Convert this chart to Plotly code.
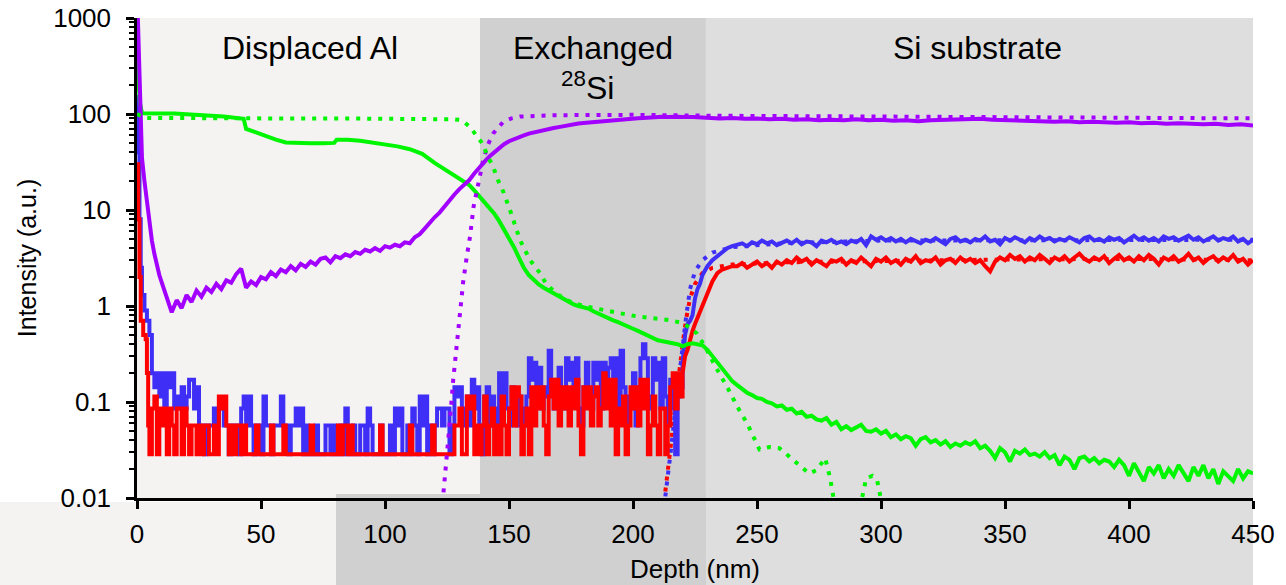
import plotly.graph_objects as go

# ---------------- data ----------------
UNIT = 0.0285  # one detector count level (a.u.)

# blue trace
blue_head_x = [0, 0.5, 1, 1.5, 2, 3, 4, 5]
blue_head_y = [150, 40, 8, 2.5, 1.3, 0.9, 0.7, 0.5]
blue_low_x = list(range(6, 221))
blue_low_counts = [
    7, 5, 7, 4, 7, 3, 7, 5, 7, 3,
    4, 3, 5, 3, 4, 6, 6, 3, 5, 2,
    2, 1, 2, 2, 2, 3, 2, 3, 3, 2,
    2, 1, 2, 2, 2, 1, 3, 4, 2, 4,
    2, 1, 2, 2, 1, 4, 2, 2, 1, 2,
    2, 2, 4, 2, 2, 1, 2, 2, 3, 2,
    3, 1, 2, 1, 1, 1, 2, 1, 1, 1,
    2, 2, 1, 2, 1, 1, 2, 1, 3, 1,
    1, 2, 1, 1, 2, 2, 1, 3, 2, 1,
    1, 1, 2, 1, 1, 1, 2, 1, 3, 2,
    3, 1, 1, 2, 1, 3, 2, 1, 4, 2,
    4, 1, 2, 1, 2, 3, 3, 2, 3, 3,
    1, 2, 5, 4, 5, 3, 2, 4, 2, 6,
    3, 5, 2, 1, 4, 5, 2, 4, 3, 2,
    7, 4, 7, 3, 2, 5, 3, 2, 4, 3,
    2, 4, 10, 6, 9, 4, 8, 3, 5, 4,
    12, 5, 3, 6, 8, 4, 3, 10, 6, 9,
    4, 10, 3, 2, 5, 9, 4, 3, 9, 6,
    9, 3, 9, 5, 8, 10, 4, 10, 3, 12,
    5, 2, 4, 3, 7, 2, 5, 10, 14, 10,
    4, 3, 10, 6, 9, 3, 10, 4, 2, 6,
    3, 1, 4, 5, 9,
]
blue_rise_x = [221, 222, 223, 224, 225, 226, 227, 228, 229, 230, 232, 234, 236, 238, 240]
blue_rise_y = [0.5, 0.65, 0.7, 0.8, 1.2, 1.5, 1.7, 2.1, 2.4, 2.6, 3.0, 3.3, 3.7, 4.0, 4.2]
blue_plateau_x = list(range(242, 451, 2))
blue_plateau_y = [
    4.3, 4.5, 4.2, 4.6, 4.4, 4.8, 4.5, 4.7, 4.3, 4.6,
    4.8, 4.5, 4.9, 4.4, 4.7, 4.6, 4.2, 4.8, 4.6, 4.9,
    4.5, 4.7, 4.4, 4.8, 4.6, 5.0, 4.3, 5.3, 4.9, 5.2,
    4.8, 5.1, 4.7, 5.0, 4.6, 5.0, 4.8, 4.5, 4.9, 4.7,
    5.1, 4.8, 4.4, 5.0, 5.2, 4.7, 4.9, 4.6, 5.0, 4.8,
    5.3, 4.7, 4.9, 4.4, 5.1, 4.8, 5.2, 4.9, 4.6, 5.1,
    4.8, 5.3, 4.9, 5.1, 4.7, 5.0, 4.8, 5.2, 4.9, 4.6,
    5.1, 5.3, 4.8, 5.0, 4.7, 5.2, 4.9, 5.1, 4.6, 5.0,
    5.4, 4.9, 5.2, 4.8, 5.1, 4.7, 5.3, 5.0, 5.2, 4.8,
    5.1, 5.4, 4.9, 5.2, 4.7, 5.0, 5.3, 4.8, 5.1, 4.9,
    5.3, 4.7, 5.0, 4.5, 4.9,
]

# red trace
red_head_x = [0, 0.5, 1, 1.5, 2.5, 3.5, 4, 4.5]
red_head_y = [30, 8, 2, 0.7, 0.5, 0.45, 0.2, 0.057]
red_low_x = list(range(5, 221))
red_low_counts = [
    1, 3, 4, 1, 3, 2, 3, 1, 3, 2,
    1, 3, 3, 1, 3, 2, 1, 2, 2, 1,
    2, 1, 2, 2, 1, 1, 2, 1, 4, 3,
    4, 2, 1, 2, 1, 2, 2, 1, 2, 1,
    1, 1, 1, 2, 1, 1, 1, 1, 1, 2,
    1, 1, 1, 1, 2, 1, 1, 1, 1, 1,
    1, 1, 1, 1, 1, 2, 1, 1, 1, 1,
    1, 1, 1, 1, 1, 1, 2, 1, 2, 2,
    1, 2, 1, 1, 1, 1, 1, 1, 1, 1,
    1, 1, 1, 2, 1, 1, 1, 1, 1, 1,
    1, 1, 1, 1, 1, 2, 1, 1, 1, 1,
    1, 1, 1, 1, 2, 1, 1, 1, 1, 1,
    1, 1, 1, 2, 2, 3, 1, 1, 4, 3,
    4, 1, 2, 1, 2, 4, 1, 2, 3, 1,
    2, 1, 4, 2, 1, 3, 5, 2, 5, 4,
    1, 2, 3, 1, 5, 2, 5, 3, 5, 2,
    1, 4, 6, 3, 6, 2, 5, 3, 5, 2,
    5, 3, 6, 2, 1, 5, 3, 5, 2, 4,
    5, 2, 3, 7, 3, 6, 2, 6, 1, 3,
    2, 4, 1, 2, 5, 3, 5, 2, 6, 3,
    6, 1, 2, 4, 2, 1, 3, 3, 1, 2,
    5, 7, 3, 7, 4, 7,
]
red_rise_x = [221, 222, 223, 224, 225, 226, 227, 228, 229, 230, 232, 234, 236, 238, 240]
red_rise_y = [0.3, 0.35, 0.45, 0.55, 0.65, 0.75, 0.9, 1.05, 1.2, 1.4, 1.8, 2.2, 2.4, 2.5, 2.6]
red_plateau_x = list(range(242, 451, 2))
red_plateau_y = [
    2.6, 2.8, 2.5, 2.7, 2.9, 2.6, 2.8, 2.5, 2.9, 2.7,
    3.0, 2.8, 3.2, 2.9, 3.1, 2.7, 3.0, 2.8, 2.6, 3.0,
    2.9, 3.1, 2.7, 3.0, 2.8, 3.2, 2.9, 2.6, 3.1, 2.9,
    3.2, 2.8, 3.0, 2.7, 3.1, 2.9, 3.3, 2.8, 3.0, 2.9,
    3.2, 2.7, 3.0, 3.1, 2.8, 3.2, 2.9, 3.1, 2.8, 3.0,
    2.6, 2.3, 2.9, 3.2, 3.0, 3.4, 3.1, 3.3, 2.9, 3.2,
    3.0, 3.4, 3.1, 2.8, 3.2, 3.0, 3.3, 2.9, 3.2, 3.5,
    3.1, 2.9, 3.2, 3.0, 3.3, 2.8, 3.1, 3.4, 3.0, 3.2,
    2.9, 3.3, 3.0, 3.4, 3.1, 2.7, 3.2, 3.0, 3.3, 2.9,
    3.1, 3.5, 3.0, 3.2, 2.8, 3.1, 3.3, 2.9, 3.2, 3.0,
    3.4, 2.9, 3.1, 2.7, 3.0,
]

# purple (measured, solid)
purple_head_x = [0, 0.5, 1, 1.5, 2, 3, 4, 5, 6, 7, 8, 9, 10, 11, 12, 13, 14]
purple_head_y = [2000, 700, 250, 80, 35, 20, 12, 7.5, 4.8, 3.5, 2.6, 2.1, 1.75, 1.45, 1.3, 1.05, 0.86]
purple_mid_x = list(range(16, 135, 2))
purple_mid_y = [
    1.15, 0.95, 1.3, 1.1, 1.45, 1.25, 1.55, 1.4, 1.7, 1.5,
    1.85, 1.75, 2.15, 2.45, 1.55, 1.8, 1.65, 2.0, 1.9, 2.25,
    2.05, 2.4, 2.25, 2.6, 2.35, 2.75, 2.55, 2.9, 2.7, 3.1,
    3.2, 2.85, 3.3, 3.15, 3.45, 3.3, 3.65, 3.5, 3.85, 3.7,
    4.0, 3.75, 4.2, 4.05, 4.35, 4.2, 4.6, 4.5, 5.2, 5.6,
    6.4, 7.4, 8.4, 9.4, 11, 12.5, 14.5, 16.5, 18.5, 20.5,
]
purple_up_x = list(range(136, 229, 2))
purple_up_y = [
    24, 28, 31.5, 36, 40, 45, 48.5, 52, 55, 58,
    60, 62.5, 64.5, 66, 68, 70, 71.5, 73, 75, 77,
    78, 79.5, 80.5, 81.5, 82, 83, 83.5, 85, 86, 87,
    88, 89, 90, 90.5, 91, 92, 92, 93, 93.5, 93,
    94, 93.5, 93, 94, 93, 92.5, 92,
]
purple_tail_x = list(range(230, 451, 5))
purple_tail_y = [
    92, 90, 91, 89, 90, 88, 89, 87, 88, 86,
    87, 86, 88, 86, 87, 85, 86, 84, 86, 87,
    88, 90, 89, 87, 86, 85, 84, 85, 83, 84,
    82, 83, 82, 81, 82, 80, 81, 79, 80, 79,
    78, 79, 77, 78, 76,
]

# green (measured, solid)
green_head_x = [0, 0.6, 1.2, 2, 5, 10, 15, 20, 25, 30, 35, 40, 43, 44, 48, 52, 56, 60, 65, 70,
                75, 79.5, 80.5, 85, 90, 95, 100, 105, 110, 115, 120, 125, 130]
green_head_y = [380, 250, 130, 102, 101, 101.5, 101, 100, 98, 96, 94, 91, 89, 70, 64, 58, 54, 50.5, 49.5, 49.5,
                49.5, 50, 54, 54, 52.5, 50.5, 48.5, 46, 43, 38.5, 31, 25.5, 21]
green_mid_x = list(range(134, 231, 2))
green_mid_y = [
    18.2, 16, 14, 12.3, 10.7, 9.2, 7.7, 6.3, 5.1, 4.1,
    3.2, 2.5, 2.1, 1.85, 1.68, 1.55, 1.45, 1.36, 1.27, 1.17,
    1.09, 1.04, 1.0, 0.97, 0.94, 0.88, 0.83, 0.79, 0.75, 0.71,
    0.68, 0.64, 0.61, 0.58, 0.55, 0.52, 0.49, 0.47, 0.44, 0.43,
    0.42, 0.41, 0.40, 0.38, 0.40, 0.41, 0.40, 0.39, 0.35,
]
green_tail_x = list(range(232, 451, 2))
green_tail_y = [
    0.30, 0.26, 0.22, 0.19, 0.165, 0.15, 0.135, 0.125, 0.118, 0.11,
    0.108, 0.1, 0.097, 0.09, 0.092, 0.083, 0.085, 0.076, 0.079, 0.07,
    0.072, 0.066, 0.064, 0.068, 0.058, 0.062, 0.052, 0.056, 0.051, 0.054,
    0.058, 0.05, 0.049, 0.052, 0.047, 0.05, 0.043, 0.046, 0.041, 0.044,
    0.042, 0.035, 0.041, 0.043, 0.038, 0.04, 0.036, 0.039, 0.034, 0.037,
    0.035, 0.038, 0.036, 0.039, 0.033, 0.035, 0.031, 0.026, 0.033, 0.03,
    0.024, 0.031, 0.029, 0.032, 0.028, 0.029, 0.027, 0.03, 0.026, 0.028,
    0.022, 0.027, 0.025, 0.02, 0.026, 0.027, 0.024, 0.026, 0.023, 0.025,
    0.024, 0.021, 0.025, 0.022, 0.017, 0.023, 0.019, 0.015, 0.021, 0.018,
    0.022, 0.016, 0.02, 0.017, 0.022, 0.018, 0.015, 0.021, 0.017, 0.022,
    0.016, 0.02, 0.014, 0.019, 0.017, 0.015, 0.02, 0.016, 0.019, 0.018,
]

# simulated profiles (dotted)
purple_dot_x = [122, 123.5, 125, 126.2, 127.5, 128.9, 130.2, 131.6, 133, 134.3, 135.7, 137, 139.6,
                141.5, 143.7, 147.7, 151, 154.4, 160, 168, 180, 200, 230, 260, 300, 350, 400, 450]
purple_dot_y = [0.004, 0.01, 0.025, 0.065, 0.17, 0.41, 0.98, 1.86, 3.3, 5.3, 10.8, 16, 33,
                48, 63, 83, 90, 94, 96, 97, 97.5, 98, 96, 95, 94, 93, 92, 90]
green_dot_x = [0, 3, 5, 20, 50, 80, 110, 120, 125, 128, 130, 132, 134.3, 137, 139.6, 141, 143.7, 145,
               147.7, 150.4, 152.5, 154.4, 156.5, 158.5, 162.5, 165.2, 170, 175, 180, 185, 188, 192,
               197, 201.5, 208, 215, 220.4, 225.7, 229, 233, 238, 242, 246, 251, 255, 259, 263, 266,
               271, 274, 277.5, 279.5, 281, 286, 292, 294, 296.5, 298.5, 300, 303]
green_dot_y = [100, 92, 91, 90, 90, 90, 90, 90, 89, 88, 87, 82, 73, 60, 48, 38, 28, 22,
               15.5, 10, 7, 4.9, 3.8, 3.0, 2.2, 1.66, 1.3, 1.1, 1.0, 0.95, 0.91, 0.87,
               0.82, 0.78, 0.74, 0.71, 0.66, 0.52, 0.38, 0.24, 0.143, 0.09, 0.06, 0.032, 0.034, 0.033, 0.027, 0.023,
               0.018, 0.0195, 0.026, 0.016, 0.0095, 0.004, 0.009, 0.016, 0.017, 0.015, 0.01, 0.004]
blue_dot_x = [212.5, 214, 215.5, 217, 218.5, 220, 221.5, 223, 225, 228, 232, 240, 260, 300, 350, 400, 450]
blue_dot_y = [0.008, 0.016, 0.035, 0.08, 0.18, 0.38, 0.8, 1.5, 2.3, 3.0, 3.6, 4.1, 4.5, 4.8, 4.85, 4.95, 4.9]
red_dot_x = [212.5, 214, 215.5, 217, 218.5, 220, 221.5, 223, 225, 228, 232, 240, 260, 300, 350, 400, 450]
red_dot_y = [0.009, 0.018, 0.04, 0.09, 0.2, 0.4, 0.75, 1.2, 1.7, 2.2, 2.5, 2.7, 2.85, 2.95, 3.05, 3.1, 3.0]

# regions and labels
region_edges = [0, 138.3, 229.4, 450]
region_colors = ["#f4f3f2", "#d0d0d0", "#dedede"]
y_ticks = [0.01, 0.1, 1, 10, 100, 1000]
y_tick_text = ["0.01", "0.1", "1", "10", "100", "1000"]
x_ticks = [0, 50, 100, 150, 200, 250, 300, 350, 400, 450]

for a, b in [(blue_low_x, blue_low_counts), (red_low_x, red_low_counts), (blue_plateau_x, blue_plateau_y),
             (red_plateau_x, red_plateau_y), (purple_mid_x, purple_mid_y), (purple_up_x, purple_up_y),
             (purple_tail_x, purple_tail_y), (green_mid_x, green_mid_y), (green_tail_x, green_tail_y),
             (green_head_x, green_head_y), (green_dot_x, green_dot_y), (purple_dot_x, purple_dot_y)]:
    assert len(a) == len(b)

# ---------------- assemble series ----------------
blue_low_y = [c * UNIT for c in blue_low_counts]
red_low_y = [c * UNIT for c in red_low_counts]
# quantised low-count part (step-shaped) and the continuous part joined at the last low point
blue_step_x = blue_head_x + blue_low_x
blue_step_y = blue_head_y + blue_low_y
blue_cont_x = blue_low_x[-1:] + blue_rise_x + blue_plateau_x
blue_cont_y = blue_low_y[-1:] + blue_rise_y + blue_plateau_y
red_step_x = red_head_x + red_low_x
red_step_y = red_head_y + red_low_y
red_cont_x = red_low_x[-1:] + red_rise_x + red_plateau_x
red_cont_y = red_low_y[-1:] + red_rise_y + red_plateau_y
purple_x = purple_head_x + purple_mid_x + purple_up_x + purple_tail_x
purple_y = purple_head_y + purple_mid_y + purple_up_y + purple_tail_y
green_x = green_head_x + green_mid_x + green_tail_x
green_y = green_head_y + green_mid_y + green_tail_y

BLUE = "#3f2ef5"
RED = "#ff0000"
PURPLE = "#a200ff"
GREEN = "#00f500"
DOT = "4px,7px"
FONT = "Liberation Sans, Arial, sans-serif"
LW = 4

fig = go.Figure()
fig.add_trace(go.Scatter(x=blue_dot_x, y=blue_dot_y, mode="lines", line=dict(color=BLUE, width=4, dash=DOT)))
fig.add_trace(go.Scatter(x=red_dot_x, y=red_dot_y, mode="lines", line=dict(color=RED, width=4, dash=DOT)))
fig.add_trace(go.Scatter(x=blue_step_x, y=blue_step_y, mode="lines", line=dict(color=BLUE, width=LW, shape="hv")))
fig.add_trace(go.Scatter(x=blue_cont_x, y=blue_cont_y, mode="lines", line=dict(color=BLUE, width=LW)))
fig.add_trace(go.Scatter(x=red_step_x, y=red_step_y, mode="lines", line=dict(color=RED, width=LW, shape="hv")))
fig.add_trace(go.Scatter(x=red_cont_x, y=red_cont_y, mode="lines", line=dict(color=RED, width=LW)))
fig.add_trace(go.Scatter(x=green_x, y=green_y, mode="lines", line=dict(color=GREEN, width=LW)))
fig.add_trace(go.Scatter(x=purple_x, y=purple_y, mode="lines", line=dict(color=PURPLE, width=LW)))
fig.add_trace(go.Scatter(x=purple_dot_x, y=purple_dot_y, mode="lines", line=dict(color=PURPLE, width=4, dash=DOT)))
fig.add_trace(go.Scatter(x=green_dot_x, y=green_dot_y, mode="lines", line=dict(color=GREEN, width=4, dash=DOT)))

shapes = []
for i, col in enumerate(region_colors):
    shapes.append(dict(type="rect", xref="x", yref="paper", x0=region_edges[i], x1=region_edges[i + 1],
                       y0=0, y1=1, fillcolor=col, line=dict(width=0), layer="below"))
# slide background pieces below the chart
shapes.append(dict(type="rect", xref="paper", yref="paper", x0=-0.1228, x1=0.1783, y0=-0.0083, y1=-0.19,
                   fillcolor="#f4f3f2", line=dict(width=0), layer="below"))
shapes.append(dict(type="rect", xref="paper", yref="paper", x0=0.1783, x1=0.5099, y0=0.0083, y1=-0.19,
                   fillcolor="#d0d0d0", line=dict(width=0), layer="below"))
shapes.append(dict(type="rect", xref="paper", yref="paper", x0=0.5099, x1=1.0, y0=0, y1=-0.19,
                   fillcolor="#dedede", line=dict(width=0), layer="below"))

LBL = dict(size=32, color="black", family=FONT)
annotations = [
    dict(text="Displaced Al", x=69.8, y=0.9375, xref="x", yref="paper", showarrow=False,
         font=LBL, xanchor="center", yanchor="middle"),
    dict(text="Exchanged", x=183.9, y=0.9375, xref="x", yref="paper", showarrow=False,
         font=LBL, xanchor="center", yanchor="middle"),
    dict(text="<sup>28</sup>Si", x=181.5, y=0.858, xref="x", yref="paper", showarrow=False,
         font=LBL, xanchor="center", yanchor="middle"),
    dict(text="Si substrate", x=339.1, y=0.9375, xref="x", yref="paper", showarrow=False,
         font=LBL, xanchor="center", yanchor="middle"),
]

minor_vals = [m * 10 ** e for e in range(-2, 3) for m in range(2, 10)]

fig.update_layout(
    template="none",
    width=1286, height=585,
    margin=dict(l=137, r=33, t=18, b=87, autoexpand=False),
    paper_bgcolor="white", plot_bgcolor="rgba(0,0,0,0)",
    showlegend=False,
    font=dict(family=FONT, color="black"),
    shapes=shapes, annotations=annotations,
    xaxis=dict(range=[0, 450], tickvals=x_ticks, ticks="outside", ticklen=8, tickwidth=2.5,
               tickcolor="black", showline=True, linecolor="black", linewidth=2.5, automargin=False,
               showgrid=False, zeroline=False, tickfont=dict(size=26, family=FONT), ticklabelstandoff=3,
               title=dict(text="Depth (nm)", font=dict(size=26, family=FONT), standoff=12)),
    yaxis=dict(type="log", range=[-2, 3], tickvals=y_ticks, ticktext=y_tick_text, ticks="outside",
               ticklen=8, tickwidth=2.5, tickcolor="black", showline=True, linecolor="black",
               linewidth=2.5, showgrid=False, zeroline=False, tickfont=dict(size=26, family=FONT),
               automargin=False, ticklabelstandoff=10,
               minor=dict(tickvals=minor_vals, ticks="outside", ticklen=5, tickwidth=2,
                          tickcolor="black", showgrid=False),
               title=dict(text="Intensity (a.u.)", font=dict(size=25, family=FONT), standoff=10)),
)

fig.write_html("out.html", config={"displayModeBar": False},
               post_script="document.body.style.margin='0';")
